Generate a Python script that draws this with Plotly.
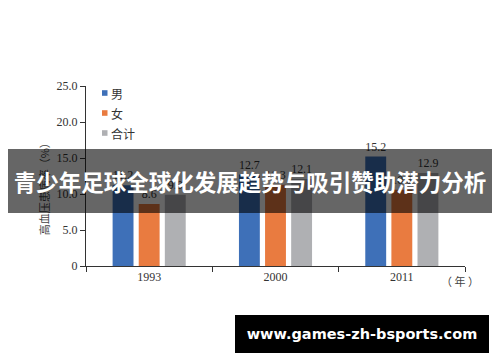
import plotly.graph_objects as go

years = ["1993", "2000", "2011"]
series_names = ["男", "女", "合计"]
male = [11.2, 12.7, 15.2]
female = [8.6, 11.3, 10.6]
total = [9.9, 12.1, 12.9]
colors = ["#3E70B8", "#E97B40", "#AFB0B3"]
y_tickvals = [0, 5, 10, 15, 20, 25]
y_ticktext = ["0", "5.0", "10.0", "15.0", "20.0", "25.0"]
y_title = "高血压患病率（%）"
x_unit = "（ 年 ）"
banner_text = "青少年足球全球化发展趋势与吸引赞助潜力分析"
site_text = "www.games-zh-bsports.com"

OFF = 8  # page body margin
W, H = 500 - OFF, 362 - OFF
# plot area in page pixels: x 86..465, y 85.7..265.7
L, T = 86 - OFF, 85.7 - OFF
R = W - (465 - OFF)
B = H - (265.7 - OFF)
PW, PH = W - L - R, H - T - B

def px(x):
    return (x - OFF - L) / PW

def py(y):
    return (H - B - (y - OFF)) / PH

serif = "Liberation Serif"
cjk = "Noto Sans CJK SC"

fig = go.Figure()
for name, vals, c in zip(series_names, [male, female, total], colors):
    fig.add_trace(go.Bar(
        x=years, y=vals, name=name, marker=dict(color=c, line=dict(width=0)),
        texttemplate="%{y:.1f}", textposition="outside",
        textfont=dict(family=serif, size=12, color="#333"),
        cliponaxis=False, showlegend=False,
    ))

shapes = []
annotations = []
# manual legend
for i, (name, c) in enumerate(zip(series_names, colors)):
    yc = 92.7 + 20 * i
    shapes.append(dict(type="rect", xref="paper", yref="paper",
                       x0=px(102), x1=px(107.5), y0=py(yc + 2.8), y1=py(yc - 2.8),
                       fillcolor=c, line=dict(width=0)))
    annotations.append(dict(xref="paper", yref="paper", x=px(109), y=py(yc),
                            xanchor="left", yanchor="middle", showarrow=False,
                            text=name, font=dict(family=cjk, size=12, color="#333")))

annotations.append(dict(xref="paper", yref="paper", x=px(460), y=py(281),
                        xanchor="center", yanchor="middle", showarrow=False,
                        text=x_unit, font=dict(family=cjk, size=11, color="#444")))
annotations.append(dict(xref="paper", yref="paper", x=px(44), y=py(186),
                        xanchor="center", yanchor="middle", showarrow=False,
                        textangle=-90, text=y_title,
                        font=dict(family=cjk, size=11, color="#444")))
# banner overlay
annotations.append(dict(xref="paper", yref="paper", x=px(250), y=py(181),
                        xanchor="center", yanchor="middle", showarrow=False,
                        width=484, height=64, borderpad=0, borderwidth=0,
                        bgcolor="rgba(0,0,0,0.6)", text="<b>" + banner_text + "</b>",
                        font=dict(family=cjk, size=22.5, color="white")))
# site box
annotations.append(dict(xref="paper", yref="paper", x=px(362), y=py(334),
                        xanchor="center", yanchor="middle", showarrow=False,
                        width=254, height=38, borderpad=0, borderwidth=0,
                        bgcolor="black", text="<b>" + site_text + "</b>",
                        font=dict(family="DejaVu Sans", size=14.5, color="white")))

fig.update_layout(
    width=W, height=H,
    margin=dict(l=L, r=R, t=T, b=B, autoexpand=False),
    paper_bgcolor="white", plot_bgcolor="white",
    barmode="group", bargap=0.38, bargroupgap=0.2,
    showlegend=False,
    shapes=shapes, annotations=annotations,
    xaxis=dict(type="category", tickson="boundaries", ticks="outside", ticklen=5,
               tickcolor="#333", showline=True, linecolor="#333", linewidth=1,
               showgrid=False, tickfont=dict(family=serif, size=12, color="#333")),
    yaxis=dict(range=[0, 25], tickvals=y_tickvals, ticktext=y_ticktext,
               ticks="outside", ticklen=5, tickcolor="#333", showline=True,
               linecolor="#333", linewidth=1, showgrid=False, zeroline=False,
               tickfont=dict(family=serif, size=12, color="#333")),
)

fig.write_html("out.html")
